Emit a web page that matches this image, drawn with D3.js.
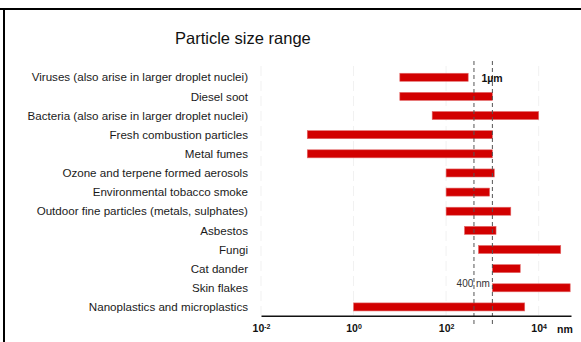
<!DOCTYPE html>
<html>
<head>
<meta charset="utf-8">
<script src="https://cdn.jsdelivr.net/npm/d3@7"></script>
<style>
  body { margin: 0; background: #fff; }
  svg { font-family: "Liberation Sans", Arial, sans-serif; }
</style>
</head>
<body>
<svg id="chart" width="581" height="342"></svg>
<script>
// particle size ranges in nm
var categories = [
  "Viruses (also arise in larger droplet nuclei)",
  "Diesel soot",
  "Bacteria (also arise in larger droplet nuclei)",
  "Fresh combustion particles",
  "Metal fumes",
  "Ozone and terpene formed aerosols",
  "Environmental tobacco smoke",
  "Outdoor fine particles (metals, sulphates)",
  "Asbestos",
  "Fungi",
  "Cat dander",
  "Skin flakes",
  "Nanoplastics and microplastics"
];
var minSize = [10, 10, 50, 0.1, 0.1, 100, 100, 100, 250, 500, 1000, 1000, 1];
var maxSize = [300, 1000, 10000, 1000, 1000, 1100, 870, 2500, 1200, 30000, 4000, 48000, 5000];
var tickValues = [0.01, 1, 100, 10000];
var tickExponents = ["-2", "0", "2", "4"];
var markers = [400, 1000];

var svg = d3.select("#chart");

// frame
svg.append("line").attr("x1", 0).attr("x2", 581).attr("y1", 9).attr("y2", 9)
  .attr("stroke", "#000").attr("stroke-width", 2);
svg.append("line").attr("x1", 4).attr("x2", 4).attr("y1", 9).attr("y2", 342)
  .attr("stroke", "#000").attr("stroke-width", 2);

svg.append("text")
  .attr("x", 175).attr("y", 44)
  .style("font-size", "16.5px")
  .style("fill", "#111")
  .text("Particle size range");

var x = d3.scaleLog()
  .domain([0.01, 50000])
  .range([261, 571]);

var y = d3.scaleBand()
  .domain(categories)
  .range([67.7, 316.5])
  .paddingInner(0.58)
  .paddingOuter(0.29);

// light grid at each tick
svg.selectAll(".grid")
  .data(tickValues)
  .enter()
  .append("line")
    .attr("class", "grid")
    .attr("x1", function(d) { return x(d); })
    .attr("x2", function(d) { return x(d); })
    .attr("y1", 66)
    .attr("y2", 315)
    .attr("stroke", "#f1f1f1")
    .attr("stroke-dasharray", "10,5");

// bars
svg.selectAll(".bar")
  .data(categories)
  .enter()
  .append("rect")
    .attr("class", "bar")
    .attr("x", function(d, i) { return x(minSize[i]); })
    .attr("y", function(d) { return y(d); })
    .attr("width", function(d, i) { return x(maxSize[i]) - x(minSize[i]); })
    .attr("height", y.bandwidth())
    .style("fill", "#d20000")
    .style("stroke", "#e36b6b")
    .style("stroke-width", 0.6);

// category labels
svg.selectAll(".label")
  .data(categories)
  .enter()
  .append("text")
    .attr("class", "label")
    .attr("x", 248)
    .attr("y", function(d) { return y(d) + y.bandwidth() / 2; })
    .attr("dy", "0.36em")
    .attr("text-anchor", "end")
    .style("font-size", "11.6px")
    .style("fill", "#1a1a1a")
    .text(function(d) { return d; });

// 400 nm and 1 µm markers
svg.selectAll(".marker")
  .data(markers)
  .enter()
  .append("line")
    .attr("class", "marker")
    .attr("x1", function(d) { return x(d); })
    .attr("x2", function(d) { return x(d); })
    .attr("y1", 61)
    .attr("y2", 325)
    .attr("stroke", "#555")
    .attr("stroke-width", 1)
    .attr("stroke-dasharray", "4,3");

svg.append("text")
  .attr("x", x(1000) - 11).attr("y", 78).attr("dy", "0.35em")
  .style("font-size", "10.5px").style("font-weight", "bold")
  .style("fill", "#111")
  .text("1µm");

svg.append("text")
  .attr("x", x(400) + 16).attr("y", 283).attr("dy", "0.35em")
  .attr("text-anchor", "end")
  .style("font-size", "10px")
  .style("fill", "#333")
  .text("400 nm");

// x axis
var xAxis = svg.append("g")
  .attr("transform", "translate(0,315.7)")
  .call(d3.axisBottom(x).tickValues(tickValues).tickSize(0).tickFormat(""));

xAxis.select(".domain").attr("stroke", "#111").attr("stroke-width", 1.5);

xAxis.selectAll(".tick text")
  .attr("y", 13)
  .attr("dy", "0.35em")
  .style("font-family", "'Liberation Sans', Arial, sans-serif")
  .style("font-size", "10.5px")
  .style("font-weight", "bold")
  .style("fill", "#111")
  .each(function(d, i) {
    var t = d3.select(this);
    t.append("tspan").text("10");
    t.append("tspan").attr("dy", "-0.45em").style("font-size", "7px").text(tickExponents[i]);
  });

svg.append("text")
  .attr("x", 557).attr("y", 329).attr("dy", "0.35em")
  .style("font-size", "10.5px").style("font-weight", "bold")
  .style("fill", "#111")
  .text("nm");
</script>
</body>
</html>
